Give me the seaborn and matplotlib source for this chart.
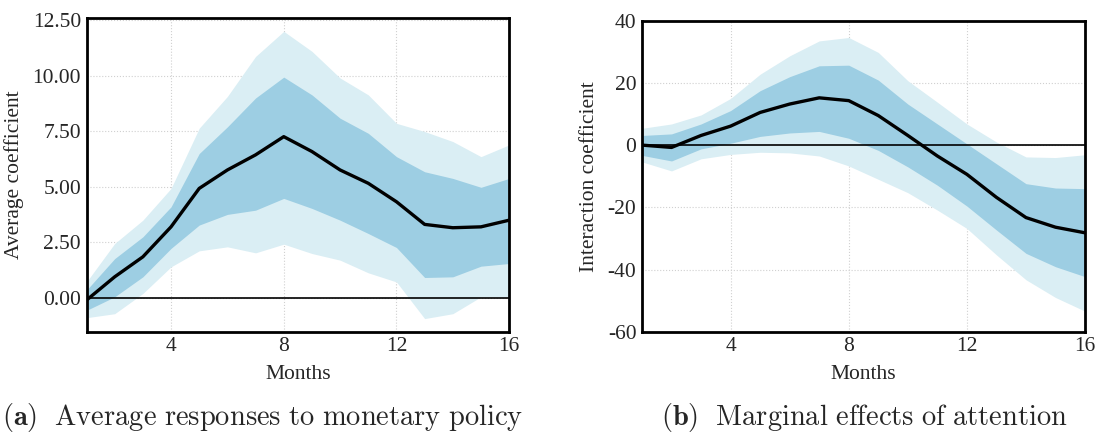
import numpy as np
import pandas as pd
import matplotlib
matplotlib.use("Agg")
import matplotlib.pyplot as plt
import seaborn as sns
from matplotlib.ticker import FormatStrFormatter

months = list(range(1, 17))

# Panel (a): average responses to monetary policy
a_median = [-0.1, 0.95, 1.85, 3.2, 4.93, 5.76, 6.44, 7.26, 6.59, 5.76, 5.16, 4.33, 3.31, 3.16, 3.2, 3.5]
a_in_hi = [0.35, 1.77, 2.75, 4.1, 6.5, 7.7, 9.0, 9.94, 9.14, 8.09, 7.41, 6.36, 5.68, 5.38, 4.98, 5.38]
a_in_lo = [-0.56, 0.05, 0.95, 2.23, 3.28, 3.76, 3.95, 4.48, 4.03, 3.5, 2.9, 2.27, 0.92, 0.95, 1.43, 1.55]
a_out_hi = [0.72, 2.45, 3.5, 4.93, 7.64, 9.07, 10.87, 12.0, 11.1, 9.9, 9.14, 7.86, 7.49, 7.04, 6.36, 6.89]
a_out_lo = [-0.89, -0.71, 0.2, 1.4, 2.12, 2.3, 2.03, 2.42, 2.0, 1.7, 1.13, 0.72, -0.93, -0.71, 0.05, 0.05]

# Panel (b): marginal effects of attention
b_median = [0.0, -0.75, 3.1, 6.1, 10.5, 13.2, 15.2, 14.3, 9.5, 3.1, -3.5, -9.4, -16.8, -23.3, -26.4, -28.2]
b_in_hi = [3.1, 3.6, 6.8, 11.1, 17.5, 22.0, 25.5, 25.7, 20.9, 13.2, 6.8, 0.4, -6.0, -12.4, -13.8, -14.0]
b_in_lo = [-3.3, -5.1, -1.2, 0.6, 2.8, 3.9, 4.4, 2.2, -1.7, -7.0, -12.9, -19.6, -27.3, -34.8, -39.1, -42.3]
b_out_hi = [5.4, 6.8, 9.7, 15.0, 22.8, 28.7, 33.5, 34.6, 29.8, 20.7, 13.8, 6.8, 1.0, -3.8, -4.0, -3.1]
b_out_lo = [-5.4, -8.3, -4.4, -3.0, -2.3, -2.5, -3.5, -6.7, -11.0, -15.3, -20.9, -26.8, -35.3, -43.3, -49.0, -53.4]

x_ticks = [4, 8, 12, 16]
a_yticks = [0.0, 2.5, 5.0, 7.5, 10.0, 12.5]
b_yticks = [-60, -40, -20, 0, 20, 40]

xlabel = "Months"
a_ylabel = "Average coefficient"
b_ylabel = "Interaction coefficient"
a_caption = r"$\mathbf{(a)}\ \ \mathrm{Average\ responses\ to\ monetary\ policy}$"
b_caption = r"$\mathbf{(b)}\ \ \mathrm{Marginal\ effects\ of\ attention}$"

sns.set_style("white")
plt.rcParams["font.family"] = ["Liberation Serif", "DejaVu Serif"]
plt.rcParams["mathtext.fontset"] = "cm"
plt.rcParams["axes.unicode_minus"] = False

light = "#daeef4"
dark = "#9dcee3"

fig = plt.figure(figsize=(10.95, 4.34), dpi=100)
ax1 = fig.add_axes([0.079, 0.2357, 0.386, 0.7228])
ax2 = fig.add_axes([0.5863, 0.2357, 0.4046, 0.7166])


def draw(ax, med, ilo, ihi, olo, ohi, ylim, yticks, ylabel):
    df = pd.DataFrame({"month": months, "median": med})
    ax.grid(True, color="#d0d0d0", linestyle=":", linewidth=0.8)
    ax.set_axisbelow(True)
    ax.fill_between(months, olo, ohi, color=light, linewidth=0, zorder=1)
    ax.fill_between(months, ilo, ihi, color=dark, linewidth=0, zorder=2)
    ax.axhline(0, color="black", linewidth=1.2, zorder=3)
    sns.lineplot(data=df, x="month", y="median", ax=ax, color="black",
                 linewidth=2.4, zorder=4)
    ax.set_xlim(1, 16)
    ax.set_ylim(*ylim)
    ax.set_xticks(x_ticks)
    ax.set_yticks(yticks)
    ax.tick_params(length=0, labelsize=15.5, pad=4)
    ax.set_xlabel(xlabel, fontsize=15.5, labelpad=6)
    ax.set_ylabel(ylabel, fontsize=15.5, labelpad=6)
    for s in ax.spines.values():
        s.set_visible(True)
        s.set_color("black")
        s.set_linewidth(2.0)


draw(ax1, a_median, a_in_lo, a_in_hi, a_out_lo, a_out_hi, (-1.52, 12.6), a_yticks, a_ylabel)
ax1.yaxis.set_major_formatter(FormatStrFormatter("%.2f"))
draw(ax2, b_median, b_in_lo, b_in_hi, b_out_lo, b_out_hi, (-60, 40), b_yticks, b_ylabel)

fig.text(0.240, 0.037, a_caption, ha="center", va="center", fontsize=20.5)
fig.text(0.789, 0.037, b_caption, ha="center", va="center", fontsize=20.5)

fig.savefig("out.png", dpi=100)
